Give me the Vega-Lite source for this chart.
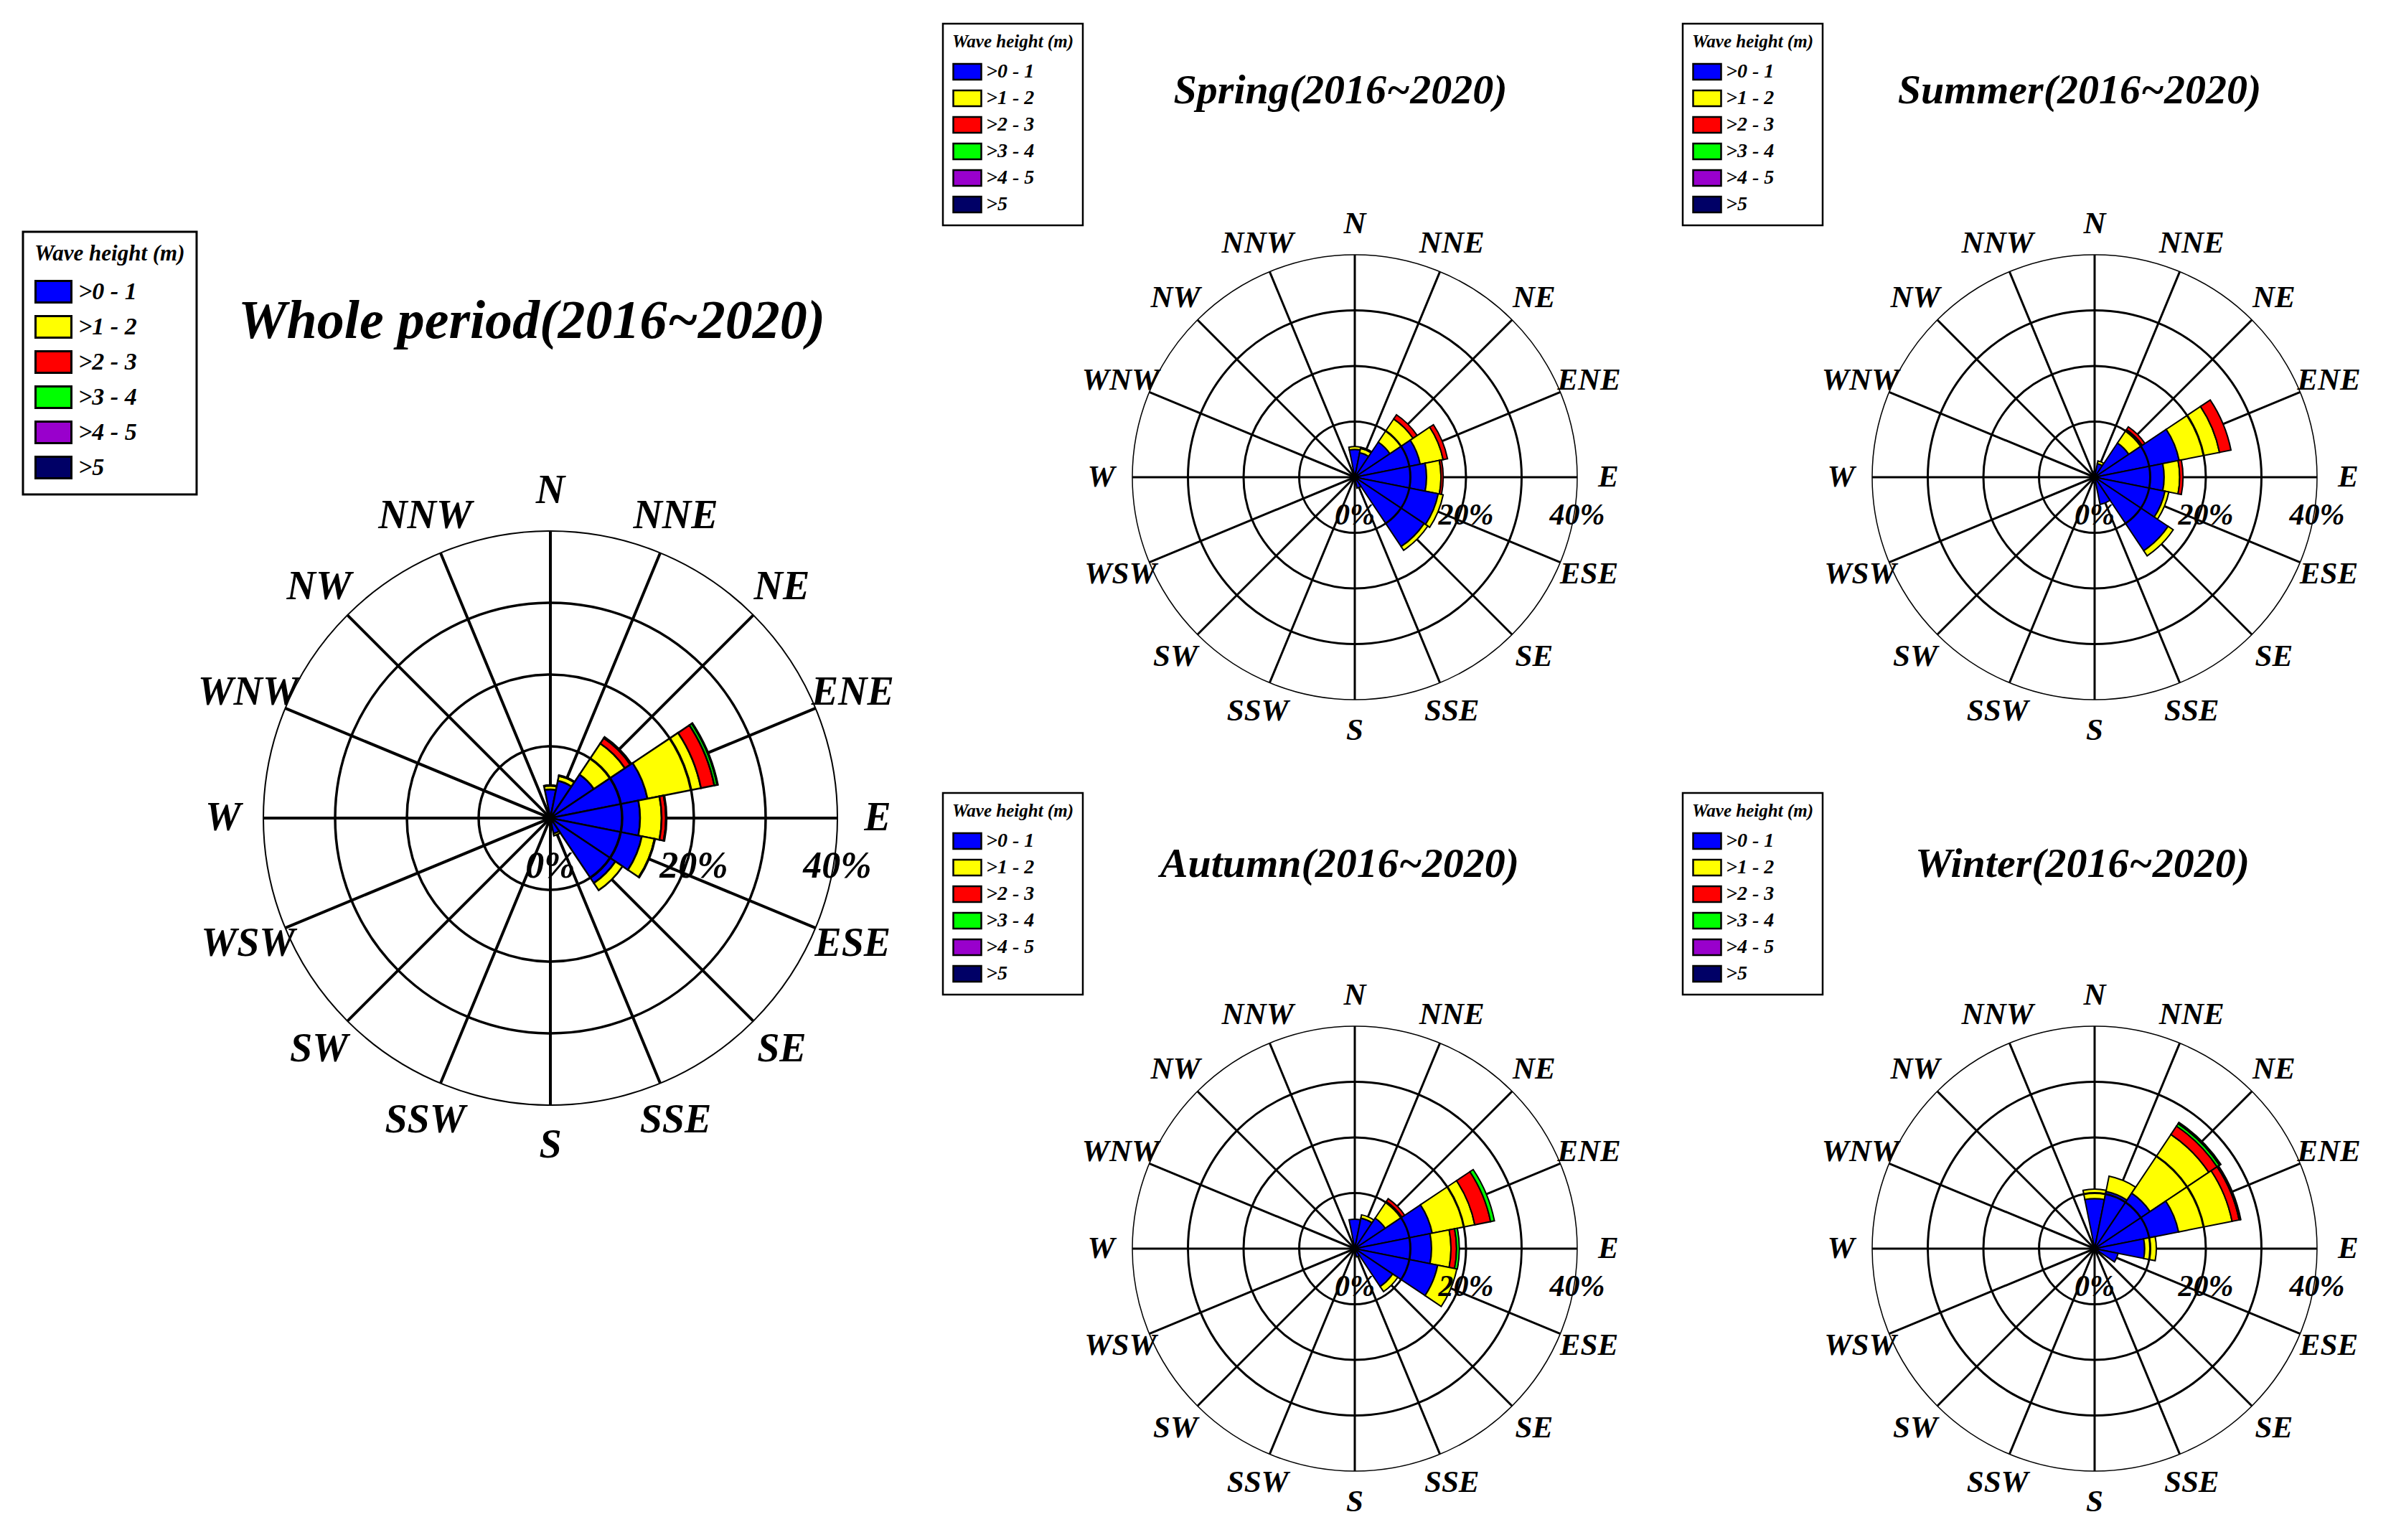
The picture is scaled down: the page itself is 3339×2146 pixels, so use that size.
{
"$schema": "https://vega.github.io/schema/vega-lite/v6.json",
"padding": 0,
"background": "white",
"config": {"view": {"stroke": null}, "font": "Liberation Serif"},
"datasets": {
"dirs": [{"dir":"N"},{"dir":"NNE"},{"dir":"NE"},{"dir":"ENE"},{"dir":"E"},{"dir":"ESE"},{"dir":"SE"},{"dir":"SSE"},{"dir":"S"},{"dir":"SSW"},{"dir":"SW"},{"dir":"WSW"},{"dir":"W"},{"dir":"WNW"},{"dir":"NW"},{"dir":"NNW"}],
"rings": [{"r":10},{"r":20},{"r":30},{"r":40}],
"pct": [{"p":0,"lab":"0%"},{"p":20,"lab":"20%"},{"p":40,"lab":"40%"}],
"whole": [
{"dir":"N","cls":">0 - 1","v":4.0},{"dir":"N","cls":">1 - 2","v":0.5},{"dir":"N","cls":">2 - 3","v":0.1},
{"dir":"NNE","cls":">0 - 1","v":5.3},{"dir":"NNE","cls":">1 - 2","v":0.7},{"dir":"NNE","cls":">2 - 3","v":0.1},
{"dir":"NE","cls":">0 - 1","v":7.3},{"dir":"NE","cls":">1 - 2","v":5.2},{"dir":"NE","cls":">2 - 3","v":0.9},{"dir":"NE","cls":">3 - 4","v":0.2},
{"dir":"ENE","cls":">0 - 1","v":13.8},{"dir":"ENE","cls":">1 - 2","v":7.6},{"dir":"ENE","cls":">2 - 3","v":1.9},{"dir":"ENE","cls":">3 - 4","v":0.4},{"dir":"ENE","cls":">4 - 5","v":0.1},
{"dir":"E","cls":">0 - 1","v":12.5},{"dir":"E","cls":">1 - 2","v":3.0},{"dir":"E","cls":">2 - 3","v":0.6},{"dir":"E","cls":">3 - 4","v":0.1},
{"dir":"ESE","cls":">0 - 1","v":13.0},{"dir":"ESE","cls":">1 - 2","v":1.8},{"dir":"ESE","cls":">2 - 3","v":0.1},
{"dir":"SE","cls":">0 - 1","v":10.9},{"dir":"SE","cls":">1 - 2","v":1.2},
{"dir":"SSE","cls":">0 - 1","v":2.2},{"dir":"SSE","cls":">1 - 2","v":0.3},
{"dir":"S","cls":">0 - 1","v":0.6},{"dir":"SSW","cls":">0 - 1","v":0.3},{"dir":"SW","cls":">0 - 1","v":0.3},{"dir":"WSW","cls":">0 - 1","v":0.3},
{"dir":"W","cls":">0 - 1","v":0.3},{"dir":"WNW","cls":">0 - 1","v":0.3},{"dir":"NW","cls":">0 - 1","v":0.4},{"dir":"NNW","cls":">0 - 1","v":0.6}
],
"spring": [
{"dir":"N","cls":">0 - 1","v":5.0},{"dir":"N","cls":">1 - 2","v":0.5},
{"dir":"NNE","cls":">0 - 1","v":4.5},{"dir":"NNE","cls":">1 - 2","v":0.8},{"dir":"NNE","cls":">2 - 3","v":0.2},
{"dir":"NE","cls":">0 - 1","v":7.6},{"dir":"NE","cls":">1 - 2","v":5.0},{"dir":"NE","cls":">2 - 3","v":0.9},
{"dir":"ENE","cls":">0 - 1","v":12.0},{"dir":"ENE","cls":">1 - 2","v":4.2},{"dir":"ENE","cls":">2 - 3","v":0.8},
{"dir":"E","cls":">0 - 1","v":12.9},{"dir":"E","cls":">1 - 2","v":2.6},{"dir":"E","cls":">2 - 3","v":0.4},
{"dir":"ESE","cls":">0 - 1","v":15.3},{"dir":"ESE","cls":">1 - 2","v":0.9},
{"dir":"SE","cls":">0 - 1","v":15.0},{"dir":"SE","cls":">1 - 2","v":0.8},
{"dir":"SSE","cls":">0 - 1","v":2.0},
{"dir":"S","cls":">0 - 1","v":0.6},{"dir":"SSW","cls":">0 - 1","v":0.3},{"dir":"SW","cls":">0 - 1","v":0.3},{"dir":"WSW","cls":">0 - 1","v":0.3},
{"dir":"W","cls":">0 - 1","v":0.3},{"dir":"WNW","cls":">0 - 1","v":0.3},{"dir":"NW","cls":">0 - 1","v":0.4},{"dir":"NNW","cls":">0 - 1","v":0.6}
],
"summer": [
{"dir":"N","cls":">0 - 1","v":1.0},
{"dir":"NNE","cls":">0 - 1","v":2.5},{"dir":"NNE","cls":">1 - 2","v":0.5},
{"dir":"NE","cls":">0 - 1","v":7.4},{"dir":"NE","cls":">1 - 2","v":2.9},{"dir":"NE","cls":">2 - 3","v":0.6},
{"dir":"ENE","cls":">0 - 1","v":15.5},{"dir":"ENE","cls":">1 - 2","v":7.4},{"dir":"ENE","cls":">2 - 3","v":2.1},
{"dir":"E","cls":">0 - 1","v":12.5},{"dir":"E","cls":">1 - 2","v":2.8},{"dir":"E","cls":">2 - 3","v":0.6},
{"dir":"ESE","cls":">0 - 1","v":12.9},{"dir":"ESE","cls":">1 - 2","v":0.7},
{"dir":"SE","cls":">0 - 1","v":15.9},{"dir":"SE","cls":">1 - 2","v":1.1},
{"dir":"SSE","cls":">0 - 1","v":5.0},
{"dir":"S","cls":">0 - 1","v":1.0},{"dir":"SSW","cls":">0 - 1","v":0.4},{"dir":"SW","cls":">0 - 1","v":0.3},{"dir":"WSW","cls":">0 - 1","v":0.3},
{"dir":"W","cls":">0 - 1","v":0.3},{"dir":"WNW","cls":">0 - 1","v":0.3},{"dir":"NW","cls":">0 - 1","v":0.3},{"dir":"NNW","cls":">0 - 1","v":0.5}
],
"autumn": [
{"dir":"N","cls":">0 - 1","v":5.3},
{"dir":"NNE","cls":">0 - 1","v":5.6},{"dir":"NNE","cls":">1 - 2","v":0.6},
{"dir":"NE","cls":">0 - 1","v":6.6},{"dir":"NE","cls":">1 - 2","v":3.6},{"dir":"NE","cls":">2 - 3","v":0.6},
{"dir":"ENE","cls":">0 - 1","v":14.2},{"dir":"ENE","cls":">1 - 2","v":7.8},{"dir":"ENE","cls":">2 - 3","v":2.9},{"dir":"ENE","cls":">3 - 4","v":0.7},
{"dir":"E","cls":">0 - 1","v":13.8},{"dir":"E","cls":">1 - 2","v":3.5},{"dir":"E","cls":">2 - 3","v":1.0},{"dir":"E","cls":">3 - 4","v":0.5},
{"dir":"ESE","cls":">0 - 1","v":15.2},{"dir":"ESE","cls":">1 - 2","v":3.5},
{"dir":"SE","cls":">0 - 1","v":8.2},{"dir":"SE","cls":">1 - 2","v":1.1},
{"dir":"SSE","cls":">0 - 1","v":1.5},
{"dir":"S","cls":">0 - 1","v":0.5},{"dir":"SSW","cls":">0 - 1","v":0.3},{"dir":"SW","cls":">0 - 1","v":0.3},{"dir":"WSW","cls":">0 - 1","v":0.3},
{"dir":"W","cls":">0 - 1","v":0.3},{"dir":"WNW","cls":">0 - 1","v":0.3},{"dir":"NW","cls":">0 - 1","v":0.3},{"dir":"NNW","cls":">0 - 1","v":0.5}
],
"winter": [
{"dir":"N","cls":">0 - 1","v":9.0},{"dir":"N","cls":">1 - 2","v":1.7},
{"dir":"NNE","cls":">0 - 1","v":10.5},{"dir":"NNE","cls":">1 - 2","v":2.8},
{"dir":"NE","cls":">0 - 1","v":12.0},{"dir":"NE","cls":">1 - 2","v":12.7},{"dir":"NE","cls":">2 - 3","v":1.8},{"dir":"NE","cls":">3 - 4","v":0.5},{"dir":"NE","cls":">4 - 5","v":0.2},{"dir":"NE","cls":">5","v":0.1},
{"dir":"ENE","cls":">0 - 1","v":15.4},{"dir":"ENE","cls":">1 - 2","v":9.8},{"dir":"ENE","cls":">2 - 3","v":1.3},{"dir":"ENE","cls":">3 - 4","v":0.2},{"dir":"ENE","cls":">4 - 5","v":0.1},
{"dir":"E","cls":">0 - 1","v":9.0},{"dir":"E","cls":">1 - 2","v":2.1},
{"dir":"ESE","cls":">0 - 1","v":4.3},
{"dir":"SE","cls":">0 - 1","v":1.0},
{"dir":"SSE","cls":">0 - 1","v":0.5},
{"dir":"S","cls":">0 - 1","v":0.3},{"dir":"SSW","cls":">0 - 1","v":0.3},{"dir":"SW","cls":">0 - 1","v":0.3},{"dir":"WSW","cls":">0 - 1","v":0.3},
{"dir":"W","cls":">0 - 1","v":0.3},{"dir":"WNW","cls":">0 - 1","v":0.3},{"dir":"NW","cls":">0 - 1","v":0.4},{"dir":"NNW","cls":">0 - 1","v":0.6}
]
},
"spacing": -222,
"resolve": {"scale": {"theta": "independent", "radius": "independent", "color": "independent"}, "legend": {"color": "independent"}},
"hconcat": [
{
"vconcat": [
{"width": 1534, "height": 134, "data": {"values": [{"a": 0}]}, "mark": {"type": "point", "opacity": 0}, "encoding": {}},
{
"width": 1534, "height": 2012,
"title": {"text": "Whole period(2016~2020)", "font": "Liberation Serif", "fontSize": 76, "fontStyle": "italic", "fontWeight": "bold", "color": "black", "anchor": "middle", "frame": "group", "baseline": "alphabetic", "offset": -413, "dx": -26},
"layer": [
{"data": {"name": "dirs"}, "mark": {"type": "arc", "filled": false, "stroke": "black", "strokeWidth": 4},
 "encoding": {"theta": {"field": "dir", "type": "nominal", "bandPosition": 0.5, "scale": {"type": "band", "domain": ["N","NNE","NE","ENE","E","ESE","SE","SSE","S","SSW","SW","WSW","W","WNW","NW","NNW"], "range": [-0.19635, 6.08684], "paddingInner": 0, "paddingOuter": 0}},
  "theta2": {"field": "dir", "bandPosition": 0.5},
  "radius": {"datum": 40, "type": "quantitative", "stack": null, "scale": {"type": "linear", "domain": [0, 40], "range": [0, 400], "zero": true, "nice": false}}}},
{"data": {"name": "whole"}, "transform": [{"stack": "v", "groupby": ["dir"], "sort": [{"field": "cls", "order": "ascending"}], "as": ["r0", "r1"]}],
 "mark": {"type": "arc", "stroke": "black", "strokeWidth": 2.5},
 "encoding": {"theta": {"field": "dir", "type": "nominal", "scale": {"type": "band", "domain": ["N","NNE","NE","ENE","E","ESE","SE","SSE","S","SSW","SW","WSW","W","WNW","NW","NNW"], "range": [-0.19635, 6.08684], "paddingInner": 0, "paddingOuter": 0}},
  "radius": {"field": "r1", "type": "quantitative", "stack": null, "scale": {"type": "linear", "domain": [0, 40], "range": [0, 400], "zero": true, "nice": false}},
  "radius2": {"field": "r0"},
  "color": {"field": "cls", "type": "nominal", "scale": {"domain": [">0 - 1", ">1 - 2", ">2 - 3", ">3 - 4", ">4 - 5", ">5"], "range": ["#0000FF", "#FFFF00", "#FF0000", "#00FF00", "#9900CC", "#000066"]},
   "legend": {"title": "Wave height (m)", "orient": "none", "legendX": 32, "legendY": 189, "direction": "vertical", "padding": 16, "titlePadding": 10, "rowPadding": 1, "titleLimit": 500, "titleAnchor": "start",
    "titleFont": "Liberation Serif", "titleFontSize": 31, "titleFontStyle": "italic", "titleFontWeight": "bold", "titleColor": "black",
    "labelFont": "Liberation Serif", "labelFontSize": 34, "labelFontStyle": "italic", "labelFontWeight": "bold", "labelColor": "black", "labelOffset": 8,
    "symbolType": "M-1,-0.6L1,-0.6L1,0.6L-1,0.6Z", "symbolSize": 2500, "symbolStrokeColor": "black", "symbolStrokeWidth": 3, "symbolOpacity": 1,
    "strokeColor": "black", "fillColor": "white", "encode": {"legend": {"update": {"strokeWidth": {"value": 3}}}}}}}},
{"data": {"name": "rings"}, "mark": {"type": "arc", "theta": 0, "theta2": 6.2832, "filled": false, "stroke": "black"},
 "encoding": {"radius": {"field": "r", "type": "quantitative", "stack": null, "scale": {"type": "linear", "domain": [0, 40], "range": [0, 400], "zero": true, "nice": false}},
  "strokeWidth": {"condition": {"test": "datum.r == 40", "value": 2}, "value": 3.5}}},
{"data": {"name": "dirs"}, "mark": {"type": "text", "font": "Liberation Serif", "fontSize": 56, "fontStyle": "italic", "fontWeight": "bold", "color": "black", "align": "center", "baseline": "middle"},
 "encoding": {"theta": {"field": "dir", "type": "nominal", "bandPosition": 0.5, "scale": {"type": "band", "domain": ["N","NNE","NE","ENE","E","ESE","SE","SSE","S","SSW","SW","WSW","W","WNW","NW","NNW"], "range": [-0.19635, 6.08684], "paddingInner": 0, "paddingOuter": 0}},
  "radius": {"datum": 45.6, "type": "quantitative", "stack": null, "scale": {"type": "linear", "domain": [0, 40], "range": [0, 400], "zero": true, "nice": false}},
  "text": {"field": "dir"}}},
{"data": {"name": "pct"}, "mark": {"type": "text", "theta": 1.5708, "dy": 67, "font": "Liberation Serif", "fontSize": 52, "fontStyle": "italic", "fontWeight": "bold", "color": "black", "align": "center", "baseline": "middle"},
 "encoding": {"radius": {"field": "p", "type": "quantitative", "stack": null, "scale": {"type": "linear", "domain": [0, 40], "range": [0, 400], "zero": true, "nice": false}}, "text": {"field": "lab"}}}
]
}
],
"spacing": 0,
"bounds": "flush",
"resolve": {"scale": {"theta": "independent", "radius": "independent", "color": "independent"}, "legend": {"color": "independent"}}
},
{
"concat": [
{
"width": 706, "height": 1330,
"title": {"text": "Spring(2016~2020)", "font": "Liberation Serif", "fontSize": 58, "fontStyle": "italic", "fontWeight": "bold", "color": "black", "anchor": "middle", "frame": "group", "baseline": "alphabetic", "offset": -202, "dx": -20},
"layer": [
{"data": {"name": "dirs"}, "mark": {"type": "arc", "filled": false, "stroke": "black", "strokeWidth": 3},
 "encoding": {"theta": {"field": "dir", "type": "nominal", "bandPosition": 0.5, "scale": {"type": "band", "domain": ["N","NNE","NE","ENE","E","ESE","SE","SSE","S","SSW","SW","WSW","W","WNW","NW","NNW"], "range": [-0.19635, 6.08684], "paddingInner": 0, "paddingOuter": 0}},
  "theta2": {"field": "dir", "bandPosition": 0.5},
  "radius": {"datum": 40, "type": "quantitative", "stack": null, "scale": {"type": "linear", "domain": [0, 40], "range": [0, 310], "zero": true, "nice": false}}}},
{"data": {"name": "spring"}, "transform": [{"stack": "v", "groupby": ["dir"], "sort": [{"field": "cls", "order": "ascending"}], "as": ["r0", "r1"]}],
 "mark": {"type": "arc", "stroke": "black", "strokeWidth": 2},
 "encoding": {"theta": {"field": "dir", "type": "nominal", "scale": {"type": "band", "domain": ["N","NNE","NE","ENE","E","ESE","SE","SSE","S","SSW","SW","WSW","W","WNW","NW","NNW"], "range": [-0.19635, 6.08684], "paddingInner": 0, "paddingOuter": 0}},
  "radius": {"field": "r1", "type": "quantitative", "stack": null, "scale": {"type": "linear", "domain": [0, 40], "range": [0, 310], "zero": true, "nice": false}},
  "radius2": {"field": "r0"},
  "color": {"field": "cls", "type": "nominal", "scale": {"domain": [">0 - 1", ">1 - 2", ">2 - 3", ">3 - 4", ">4 - 5", ">5"], "range": ["#0000FF", "#FFFF00", "#FF0000", "#00FF00", "#9900CC", "#000066"]},
   "legend": {"title": "Wave height (m)", "orient": "none", "legendX": -221, "legendY": 33, "direction": "vertical", "padding": 13, "titlePadding": 8, "rowPadding": 0, "titleLimit": 500, "titleAnchor": "start",
    "titleFont": "Liberation Serif", "titleFontSize": 25, "titleFontStyle": "italic", "titleFontWeight": "bold", "titleColor": "black",
    "labelFont": "Liberation Serif", "labelFontSize": 28, "labelFontStyle": "italic", "labelFontWeight": "bold", "labelColor": "black", "labelOffset": 5,
    "symbolType": "M-1,-0.56L1,-0.56L1,0.56L-1,0.56Z", "symbolSize": 1521, "symbolStrokeColor": "black", "symbolStrokeWidth": 2.5, "symbolOpacity": 1,
    "strokeColor": "black", "fillColor": "white", "encode": {"legend": {"update": {"strokeWidth": {"value": 2.5}}}}}}}},
{"data": {"name": "rings"}, "mark": {"type": "arc", "theta": 0, "theta2": 6.2832, "filled": false, "stroke": "black"},
 "encoding": {"radius": {"field": "r", "type": "quantitative", "stack": null, "scale": {"type": "linear", "domain": [0, 40], "range": [0, 310], "zero": true, "nice": false}},
  "strokeWidth": {"condition": {"test": "datum.r == 40", "value": 1.5}, "value": 3}}},
{"data": {"name": "dirs"}, "mark": {"type": "text", "font": "Liberation Serif", "fontSize": 43, "fontStyle": "italic", "fontWeight": "bold", "color": "black", "align": "center", "baseline": "middle"},
 "encoding": {"theta": {"field": "dir", "type": "nominal", "bandPosition": 0.5, "scale": {"type": "band", "domain": ["N","NNE","NE","ENE","E","ESE","SE","SSE","S","SSW","SW","WSW","W","WNW","NW","NNW"], "range": [-0.19635, 6.08684], "paddingInner": 0, "paddingOuter": 0}},
  "radius": {"datum": 45.6, "type": "quantitative", "stack": null, "scale": {"type": "linear", "domain": [0, 40], "range": [0, 310], "zero": true, "nice": false}},
  "text": {"field": "dir"}}},
{"data": {"name": "pct"}, "mark": {"type": "text", "theta": 1.5708, "dy": 53, "font": "Liberation Serif", "fontSize": 42, "fontStyle": "italic", "fontWeight": "bold", "color": "black", "align": "center", "baseline": "middle"},
 "encoding": {"radius": {"field": "p", "type": "quantitative", "stack": null, "scale": {"type": "linear", "domain": [0, 40], "range": [0, 310], "zero": true, "nice": false}}, "text": {"field": "lab"}}}
]
},
{
"width": 706, "height": 1330,
"title": {"text": "Summer(2016~2020)", "font": "Liberation Serif", "fontSize": 58, "fontStyle": "italic", "fontWeight": "bold", "color": "black", "anchor": "middle", "frame": "group", "baseline": "alphabetic", "offset": -202, "dx": -21},
"layer": [
{"data": {"name": "dirs"}, "mark": {"type": "arc", "filled": false, "stroke": "black", "strokeWidth": 3},
 "encoding": {"theta": {"field": "dir", "type": "nominal", "bandPosition": 0.5, "scale": {"type": "band", "domain": ["N","NNE","NE","ENE","E","ESE","SE","SSE","S","SSW","SW","WSW","W","WNW","NW","NNW"], "range": [-0.19635, 6.08684], "paddingInner": 0, "paddingOuter": 0}},
  "theta2": {"field": "dir", "bandPosition": 0.5},
  "radius": {"datum": 40, "type": "quantitative", "stack": null, "scale": {"type": "linear", "domain": [0, 40], "range": [0, 310], "zero": true, "nice": false}}}},
{"data": {"name": "summer"}, "transform": [{"stack": "v", "groupby": ["dir"], "sort": [{"field": "cls", "order": "ascending"}], "as": ["r0", "r1"]}],
 "mark": {"type": "arc", "stroke": "black", "strokeWidth": 2},
 "encoding": {"theta": {"field": "dir", "type": "nominal", "scale": {"type": "band", "domain": ["N","NNE","NE","ENE","E","ESE","SE","SSE","S","SSW","SW","WSW","W","WNW","NW","NNW"], "range": [-0.19635, 6.08684], "paddingInner": 0, "paddingOuter": 0}},
  "radius": {"field": "r1", "type": "quantitative", "stack": null, "scale": {"type": "linear", "domain": [0, 40], "range": [0, 310], "zero": true, "nice": false}},
  "radius2": {"field": "r0"},
  "color": {"field": "cls", "type": "nominal", "scale": {"domain": [">0 - 1", ">1 - 2", ">2 - 3", ">3 - 4", ">4 - 5", ">5"], "range": ["#0000FF", "#FFFF00", "#FF0000", "#00FF00", "#9900CC", "#000066"]},
   "legend": {"title": "Wave height (m)", "orient": "none", "legendX": -221, "legendY": 33, "direction": "vertical", "padding": 13, "titlePadding": 8, "rowPadding": 0, "titleLimit": 500, "titleAnchor": "start",
    "titleFont": "Liberation Serif", "titleFontSize": 25, "titleFontStyle": "italic", "titleFontWeight": "bold", "titleColor": "black",
    "labelFont": "Liberation Serif", "labelFontSize": 28, "labelFontStyle": "italic", "labelFontWeight": "bold", "labelColor": "black", "labelOffset": 5,
    "symbolType": "M-1,-0.56L1,-0.56L1,0.56L-1,0.56Z", "symbolSize": 1521, "symbolStrokeColor": "black", "symbolStrokeWidth": 2.5, "symbolOpacity": 1,
    "strokeColor": "black", "fillColor": "white", "encode": {"legend": {"update": {"strokeWidth": {"value": 2.5}}}}}}}},
{"data": {"name": "rings"}, "mark": {"type": "arc", "theta": 0, "theta2": 6.2832, "filled": false, "stroke": "black"},
 "encoding": {"radius": {"field": "r", "type": "quantitative", "stack": null, "scale": {"type": "linear", "domain": [0, 40], "range": [0, 310], "zero": true, "nice": false}},
  "strokeWidth": {"condition": {"test": "datum.r == 40", "value": 1.5}, "value": 3}}},
{"data": {"name": "dirs"}, "mark": {"type": "text", "font": "Liberation Serif", "fontSize": 43, "fontStyle": "italic", "fontWeight": "bold", "color": "black", "align": "center", "baseline": "middle"},
 "encoding": {"theta": {"field": "dir", "type": "nominal", "bandPosition": 0.5, "scale": {"type": "band", "domain": ["N","NNE","NE","ENE","E","ESE","SE","SSE","S","SSW","SW","WSW","W","WNW","NW","NNW"], "range": [-0.19635, 6.08684], "paddingInner": 0, "paddingOuter": 0}},
  "radius": {"datum": 45.6, "type": "quantitative", "stack": null, "scale": {"type": "linear", "domain": [0, 40], "range": [0, 310], "zero": true, "nice": false}},
  "text": {"field": "dir"}}},
{"data": {"name": "pct"}, "mark": {"type": "text", "theta": 1.5708, "dy": 53, "font": "Liberation Serif", "fontSize": 42, "fontStyle": "italic", "fontWeight": "bold", "color": "black", "align": "center", "baseline": "middle"},
 "encoding": {"radius": {"field": "p", "type": "quantitative", "stack": null, "scale": {"type": "linear", "domain": [0, 40], "range": [0, 310], "zero": true, "nice": false}}, "text": {"field": "lab"}}}
]
},
{
"width": 706, "height": 812,
"title": {"text": "Autumn(2016~2020)", "font": "Liberation Serif", "fontSize": 58, "fontStyle": "italic", "fontWeight": "bold", "color": "black", "anchor": "middle", "frame": "group", "baseline": "alphabetic", "offset": -176, "dx": -21},
"layer": [
{"data": {"name": "dirs"}, "mark": {"type": "arc", "filled": false, "stroke": "black", "strokeWidth": 3},
 "encoding": {"theta": {"field": "dir", "type": "nominal", "bandPosition": 0.5, "scale": {"type": "band", "domain": ["N","NNE","NE","ENE","E","ESE","SE","SSE","S","SSW","SW","WSW","W","WNW","NW","NNW"], "range": [-0.19635, 6.08684], "paddingInner": 0, "paddingOuter": 0}},
  "theta2": {"field": "dir", "bandPosition": 0.5},
  "radius": {"datum": 40, "type": "quantitative", "stack": null, "scale": {"type": "linear", "domain": [0, 40], "range": [0, 310], "zero": true, "nice": false}}}},
{"data": {"name": "autumn"}, "transform": [{"stack": "v", "groupby": ["dir"], "sort": [{"field": "cls", "order": "ascending"}], "as": ["r0", "r1"]}],
 "mark": {"type": "arc", "stroke": "black", "strokeWidth": 2},
 "encoding": {"theta": {"field": "dir", "type": "nominal", "scale": {"type": "band", "domain": ["N","NNE","NE","ENE","E","ESE","SE","SSE","S","SSW","SW","WSW","W","WNW","NW","NNW"], "range": [-0.19635, 6.08684], "paddingInner": 0, "paddingOuter": 0}},
  "radius": {"field": "r1", "type": "quantitative", "stack": null, "scale": {"type": "linear", "domain": [0, 40], "range": [0, 310], "zero": true, "nice": false}},
  "radius2": {"field": "r0"},
  "color": {"field": "cls", "type": "nominal", "scale": {"domain": [">0 - 1", ">1 - 2", ">2 - 3", ">3 - 4", ">4 - 5", ">5"], "range": ["#0000FF", "#FFFF00", "#FF0000", "#00FF00", "#9900CC", "#000066"]},
   "legend": {"title": "Wave height (m)", "orient": "none", "legendX": -221, "legendY": -229, "direction": "vertical", "padding": 13, "titlePadding": 8, "rowPadding": 0, "titleLimit": 500, "titleAnchor": "start",
    "titleFont": "Liberation Serif", "titleFontSize": 25, "titleFontStyle": "italic", "titleFontWeight": "bold", "titleColor": "black",
    "labelFont": "Liberation Serif", "labelFontSize": 28, "labelFontStyle": "italic", "labelFontWeight": "bold", "labelColor": "black", "labelOffset": 5,
    "symbolType": "M-1,-0.56L1,-0.56L1,0.56L-1,0.56Z", "symbolSize": 1521, "symbolStrokeColor": "black", "symbolStrokeWidth": 2.5, "symbolOpacity": 1,
    "strokeColor": "black", "fillColor": "white", "encode": {"legend": {"update": {"strokeWidth": {"value": 2.5}}}}}}}},
{"data": {"name": "rings"}, "mark": {"type": "arc", "theta": 0, "theta2": 6.2832, "filled": false, "stroke": "black"},
 "encoding": {"radius": {"field": "r", "type": "quantitative", "stack": null, "scale": {"type": "linear", "domain": [0, 40], "range": [0, 310], "zero": true, "nice": false}},
  "strokeWidth": {"condition": {"test": "datum.r == 40", "value": 1.5}, "value": 3}}},
{"data": {"name": "dirs"}, "mark": {"type": "text", "font": "Liberation Serif", "fontSize": 43, "fontStyle": "italic", "fontWeight": "bold", "color": "black", "align": "center", "baseline": "middle"},
 "encoding": {"theta": {"field": "dir", "type": "nominal", "bandPosition": 0.5, "scale": {"type": "band", "domain": ["N","NNE","NE","ENE","E","ESE","SE","SSE","S","SSW","SW","WSW","W","WNW","NW","NNW"], "range": [-0.19635, 6.08684], "paddingInner": 0, "paddingOuter": 0}},
  "radius": {"datum": 45.6, "type": "quantitative", "stack": null, "scale": {"type": "linear", "domain": [0, 40], "range": [0, 310], "zero": true, "nice": false}},
  "text": {"field": "dir"}}},
{"data": {"name": "pct"}, "mark": {"type": "text", "theta": 1.5708, "dy": 53, "font": "Liberation Serif", "fontSize": 42, "fontStyle": "italic", "fontWeight": "bold", "color": "black", "align": "center", "baseline": "middle"},
 "encoding": {"radius": {"field": "p", "type": "quantitative", "stack": null, "scale": {"type": "linear", "domain": [0, 40], "range": [0, 310], "zero": true, "nice": false}}, "text": {"field": "lab"}}}
]
},
{
"width": 706, "height": 812,
"title": {"text": "Winter(2016~2020)", "font": "Liberation Serif", "fontSize": 58, "fontStyle": "italic", "fontWeight": "bold", "color": "black", "anchor": "middle", "frame": "group", "baseline": "alphabetic", "offset": -176, "dx": -17},
"layer": [
{"data": {"name": "dirs"}, "mark": {"type": "arc", "filled": false, "stroke": "black", "strokeWidth": 3},
 "encoding": {"theta": {"field": "dir", "type": "nominal", "bandPosition": 0.5, "scale": {"type": "band", "domain": ["N","NNE","NE","ENE","E","ESE","SE","SSE","S","SSW","SW","WSW","W","WNW","NW","NNW"], "range": [-0.19635, 6.08684], "paddingInner": 0, "paddingOuter": 0}},
  "theta2": {"field": "dir", "bandPosition": 0.5},
  "radius": {"datum": 40, "type": "quantitative", "stack": null, "scale": {"type": "linear", "domain": [0, 40], "range": [0, 310], "zero": true, "nice": false}}}},
{"data": {"name": "winter"}, "transform": [{"stack": "v", "groupby": ["dir"], "sort": [{"field": "cls", "order": "ascending"}], "as": ["r0", "r1"]}],
 "mark": {"type": "arc", "stroke": "black", "strokeWidth": 2},
 "encoding": {"theta": {"field": "dir", "type": "nominal", "scale": {"type": "band", "domain": ["N","NNE","NE","ENE","E","ESE","SE","SSE","S","SSW","SW","WSW","W","WNW","NW","NNW"], "range": [-0.19635, 6.08684], "paddingInner": 0, "paddingOuter": 0}},
  "radius": {"field": "r1", "type": "quantitative", "stack": null, "scale": {"type": "linear", "domain": [0, 40], "range": [0, 310], "zero": true, "nice": false}},
  "radius2": {"field": "r0"},
  "color": {"field": "cls", "type": "nominal", "scale": {"domain": [">0 - 1", ">1 - 2", ">2 - 3", ">3 - 4", ">4 - 5", ">5"], "range": ["#0000FF", "#FFFF00", "#FF0000", "#00FF00", "#9900CC", "#000066"]},
   "legend": {"title": "Wave height (m)", "orient": "none", "legendX": -221, "legendY": -229, "direction": "vertical", "padding": 13, "titlePadding": 8, "rowPadding": 0, "titleLimit": 500, "titleAnchor": "start",
    "titleFont": "Liberation Serif", "titleFontSize": 25, "titleFontStyle": "italic", "titleFontWeight": "bold", "titleColor": "black",
    "labelFont": "Liberation Serif", "labelFontSize": 28, "labelFontStyle": "italic", "labelFontWeight": "bold", "labelColor": "black", "labelOffset": 5,
    "symbolType": "M-1,-0.56L1,-0.56L1,0.56L-1,0.56Z", "symbolSize": 1521, "symbolStrokeColor": "black", "symbolStrokeWidth": 2.5, "symbolOpacity": 1,
    "strokeColor": "black", "fillColor": "white", "encode": {"legend": {"update": {"strokeWidth": {"value": 2.5}}}}}}}},
{"data": {"name": "rings"}, "mark": {"type": "arc", "theta": 0, "theta2": 6.2832, "filled": false, "stroke": "black"},
 "encoding": {"radius": {"field": "r", "type": "quantitative", "stack": null, "scale": {"type": "linear", "domain": [0, 40], "range": [0, 310], "zero": true, "nice": false}},
  "strokeWidth": {"condition": {"test": "datum.r == 40", "value": 1.5}, "value": 3}}},
{"data": {"name": "dirs"}, "mark": {"type": "text", "font": "Liberation Serif", "fontSize": 43, "fontStyle": "italic", "fontWeight": "bold", "color": "black", "align": "center", "baseline": "middle"},
 "encoding": {"theta": {"field": "dir", "type": "nominal", "bandPosition": 0.5, "scale": {"type": "band", "domain": ["N","NNE","NE","ENE","E","ESE","SE","SSE","S","SSW","SW","WSW","W","WNW","NW","NNW"], "range": [-0.19635, 6.08684], "paddingInner": 0, "paddingOuter": 0}},
  "radius": {"datum": 45.6, "type": "quantitative", "stack": null, "scale": {"type": "linear", "domain": [0, 40], "range": [0, 310], "zero": true, "nice": false}},
  "text": {"field": "dir"}}},
{"data": {"name": "pct"}, "mark": {"type": "text", "theta": 1.5708, "dy": 53, "font": "Liberation Serif", "fontSize": 42, "fontStyle": "italic", "fontWeight": "bold", "color": "black", "align": "center", "baseline": "middle"},
 "encoding": {"radius": {"field": "p", "type": "quantitative", "stack": null, "scale": {"type": "linear", "domain": [0, 40], "range": [0, 310], "zero": true, "nice": false}}, "text": {"field": "lab"}}}
]
}
],
"columns": 2,
"spacing": {"row": 4, "column": 325},
"bounds": "flush",
"resolve": {"scale": {"theta": "independent", "radius": "independent", "color": "independent"}, "legend": {"color": "independent"}}
}
]
}
